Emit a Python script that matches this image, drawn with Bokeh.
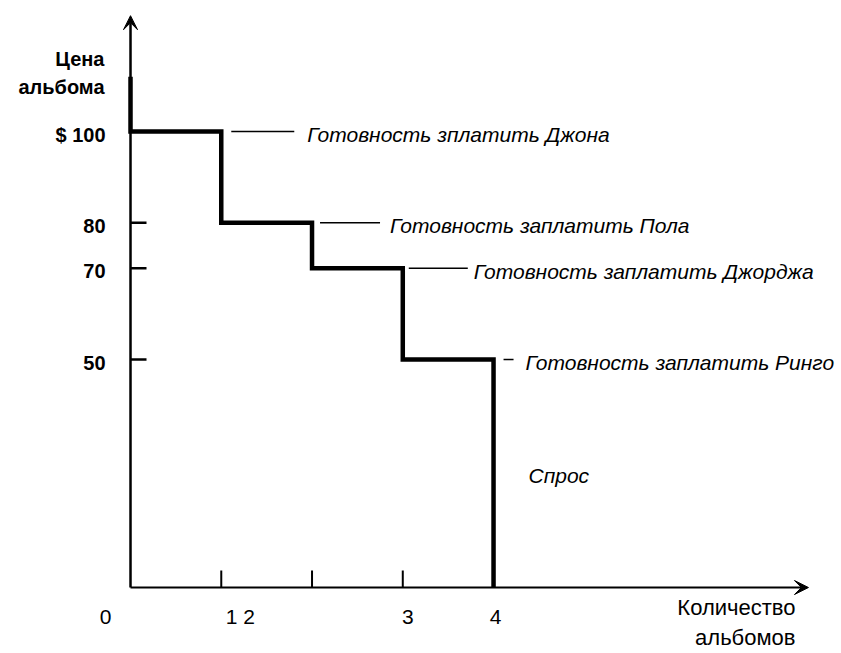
from bokeh.plotting import figure
from bokeh.models import Arrow, VeeHead
from bokeh.core.properties import value
from bokeh.embed import file_html
from bokeh.resources import INLINE

# ---- data ----
quantities = [0, 1, 2, 3, 4]
prices = [100, 80, 70, 50]
buyers = ["Готовность зплатить Джона", "Готовность заплатить Пола",
          "Готовность заплатить Джорджа", "Готовность заплатить Ринго"]
y_tick_values = [100, 80, 70, 50]
y_tick_labels = ["$ 100", "80", "70", "50"]
x_tick_values = [0, 1, 3, 4]
x_tick_labels = ["0", "1 2", "3", "4"]
x_tick_marks = [1, 2, 3]
demand_label = "Спрос"
x_title = "Количество\nальбомов"
y_title = "Цена\nальбома"

FONT = value("Liberation Sans")
XS = 90.75  # px per quantity unit (style helper for pixel offsets)

p = figure(width=841, height=653, x_range=(-1.4325, 7.834), y_range=(-14.47, 128.73),
           output_backend="svg", toolbar_location=None, min_border=0)
p.axis.visible = False
p.grid.visible = False
p.outline_line_color = None
p.background_fill_color = "white"

# axes with arrows
p.add_layout(Arrow(end=VeeHead(size=14, fill_color="black", line_color="black"),
                   x_start=0, y_start=0, x_end=0, y_end=125.4,
                   line_width=2.5, line_color="black"))
p.add_layout(Arrow(end=VeeHead(size=14, fill_color="black", line_color="black"),
                   x_start=0, y_start=0, x_end=7.47, y_end=0,
                   line_width=2.2, line_color="black"))

# demand step line
sx = [quantities[0]]
sy = [112]
for i, pr in enumerate(prices):
    sx += [quantities[i], quantities[i + 1]]
    sy += [pr, pr]
sx.append(quantities[-1])
sy.append(0)
p.line(sx, sy, line_width=4.5, line_color="black", line_join="miter")

# tick marks
p.ray(x=[0] * len(y_tick_values), y=y_tick_values, length=16, length_units="screen",
      angle=0, line_width=2.5, line_color="black")
p.ray(x=x_tick_marks, y=[0] * len(x_tick_marks), length=17, length_units="screen",
      angle=1.5708, line_width=2, line_color="black")

# y tick labels
p.text(x=[0] * len(y_tick_values), y=y_tick_values, text=y_tick_labels,
       x_offset=-25, y_offset=3, text_align="right", text_baseline="middle",
       text_font=FONT, text_font_size="20px", text_font_style="bold", text_color="black")

# x tick labels
x_offsets = [-25, 19, 5, 2]
p.text(x=x_tick_values, y=[0] * len(x_tick_values), text=x_tick_labels,
       x_offset=x_offsets, y_offset=29, text_align="center", text_baseline="middle",
       text_font=FONT, text_font_size="21px", text_color="black")

# axis titles
p.text(x=[0], y=[0], text=[x_title], x_offset=665, y_offset=35, text_align="right",
       text_baseline="alphabetic", text_font=FONT, text_font_size="22px", text_color="black",
       text_line_height=1.18)
p.text(x=[0], y=[prices[0]], text=[y_title], x_offset=-26, y_offset=-84, text_align="right",
       text_baseline="top", text_font=FONT, text_font_size="20px", text_font_style="bold",
       text_color="black", text_line_height=1.3)

# leader lines and buyer annotations
lead_start = [10, 8, 6, 10]
lead_len = [63, 60, 59, 10]
text_gap = [13, 10, 6, 12]
for i, pr in enumerate(prices):
    q = quantities[i + 1]
    p.segment(x0=[q + lead_start[i] / XS], y0=[pr],
              x1=[q + (lead_start[i] + lead_len[i]) / XS], y1=[pr],
              line_width=1.5, line_color="black")
    p.text(x=[q + (lead_start[i] + lead_len[i] + text_gap[i]) / XS], y=[pr], text=[buyers[i]],
           text_align="left", text_baseline="middle", y_offset=3,
           text_font=FONT, text_font_size="21px", text_font_style="italic",
           text_color="black")

# demand label
p.text(x=[quantities[-1]], y=[prices[-1] / 2], text=[demand_label], x_offset=35, y_offset=2,
       text_align="left", text_baseline="middle", text_font=FONT, text_font_size="21px",
       text_font_style="italic", text_color="black")

open("out.html", "w").write(file_html(p, INLINE))
